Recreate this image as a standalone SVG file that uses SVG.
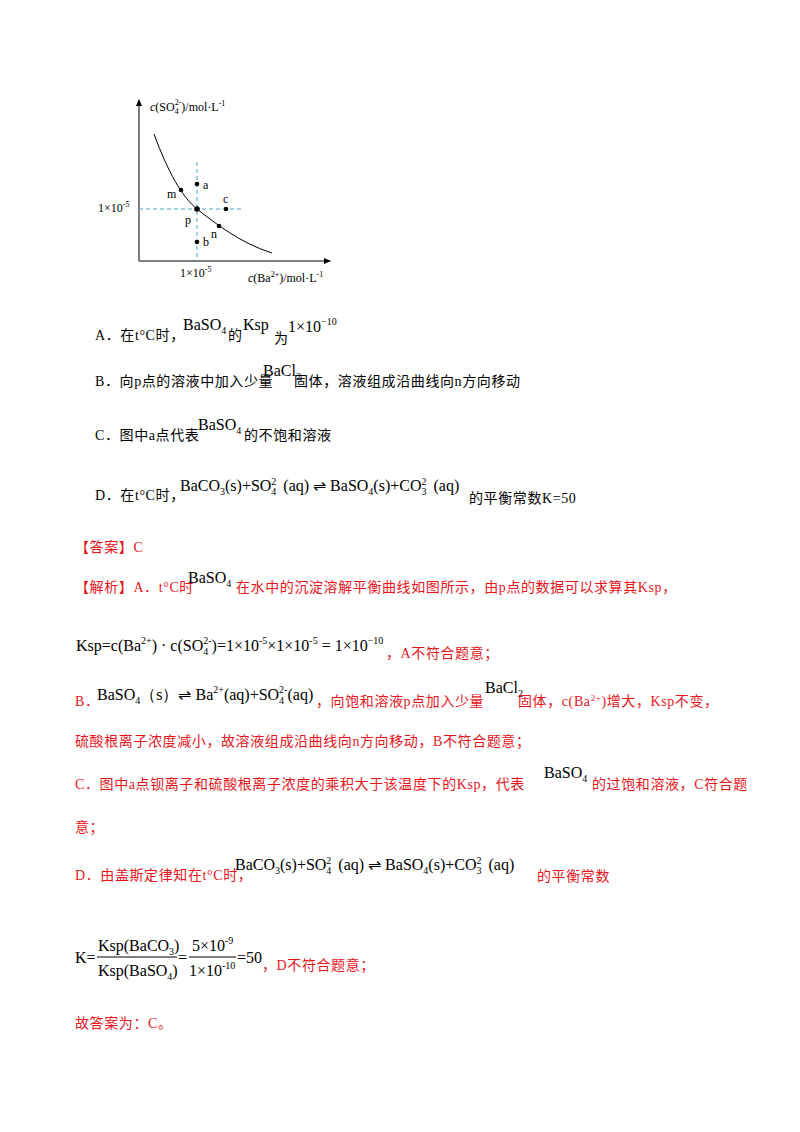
<svg xmlns="http://www.w3.org/2000/svg" width="800" height="1132" viewBox="0 0 800 1132">
<style>
.cn{font-family:"Liberation Serif","Noto Sans CJK SC",serif;font-size:14px;fill:#000;letter-spacing:0.6px}
.r{fill:#e8141b}
.f{font-family:"Liberation Serif",serif;font-size:16px;fill:#000}
.g{font-family:"Liberation Serif",serif;font-size:12px;fill:#000}
.s{font-size:10px}
.t{font-size:8px}
.dash{stroke:#4aa3c8;stroke-width:1;stroke-dasharray:4,3;fill:none}
</style>
<defs><marker id="ar" markerWidth="8" markerHeight="8" refX="6" refY="3" orient="auto"><path d="M0,0 L7,3 L0,6 z" fill="#000"/></marker></defs>
<rect width="800" height="1132" fill="#fff"/>
<g id="graph">
<line x1="139" y1="261" x2="139" y2="100" stroke="#000" marker-end="url(#ar)"/>
<line x1="139" y1="261" x2="330" y2="261" stroke="#000" marker-end="url(#ar)"/>
<line class="dash" x1="197" y1="162" x2="197" y2="261"/>
<line class="dash" x1="139" y1="209" x2="242" y2="209"/>
<path d="M154,134 C168,172 182,197 197,209 C215,223 240,243 272,253" fill="none" stroke="#000"/>
<g fill="#000"><circle cx="197" cy="184" r="2.3"/><circle cx="181" cy="190" r="2.3"/><circle cx="197" cy="209" r="2.8"/><circle cx="226" cy="209" r="2.3"/><circle cx="219" cy="226" r="2.3"/><circle cx="197" cy="242" r="2.3"/></g>
<text class="g" x="203" y="189">a</text><text class="g" x="167" y="198">m</text><text class="g" x="185" y="224">p</text><text class="g" x="223" y="203">c</text><text class="g" x="211" y="238">n</text><text class="g" x="203" y="246">b</text>
<text class="g" x="150" y="111"><tspan font-style="italic">c</tspan>(SO<tspan class="t" dy="3">4</tspan><tspan class="t" dx="-4" dy="-9">2-</tspan><tspan dy="6">)/mol·L</tspan><tspan class="t" dy="-5">-1</tspan></text>
<text class="g" x="98" y="212">1×10<tspan class="t" dy="-5">-5</tspan></text>
<text class="g" x="180" y="277">1×10<tspan class="t" dy="-5">-5</tspan></text>
<text class="g" x="248" y="282"><tspan font-style="italic">c</tspan>(Ba<tspan class="t" dy="-5">2+</tspan><tspan dy="5">)/mol·L</tspan><tspan class="t" dy="-5">-1</tspan></text>
</g>
<g id="options">
<text class="cn" x="95" y="340">A．在t°C时，</text>
<text class="f" x="183" y="330">BaSO<tspan class="s" dy="4">4</tspan></text>
<text class="cn" x="228" y="340">的</text>
<text class="f" x="243" y="330">Ksp</text>
<text class="cn" x="274" y="343">为</text>
<text class="f" x="288" y="332">1×10<tspan class="s" dy="-7">−10</tspan></text>
<text class="cn" x="95" y="386">B．向p点的溶液中加入少量</text>
<text class="f" x="263" y="376" font-size="15">BaCl<tspan class="s" dy="4">2</tspan></text>
<text class="cn" x="294" y="386">固体，溶液组成沿曲线向n方向移动</text>
<text class="cn" x="95" y="440">C．图中a点代表</text>
<text class="f" x="198" y="430">BaSO<tspan class="s" dy="4">4</tspan></text>
<text class="cn" x="244" y="440">的不饱和溶液</text>
<text class="cn" x="95" y="500">D．在t°C时，</text>
<text class="f" x="180" y="491">BaCO<tspan class="s" dy="4">3</tspan><tspan dy="-4">(s)+SO</tspan><tspan class="s" dy="4">4</tspan><tspan class="s" dx="-5" dy="-10">2</tspan><tspan dy="6" dx="7">(aq) ⇌ BaSO</tspan><tspan class="s" dy="4">4</tspan><tspan dy="-4">(s)+CO</tspan><tspan class="s" dy="4">3</tspan><tspan class="s" dx="-5" dy="-10">2</tspan><tspan dy="6" dx="7">(aq)</tspan></text>
<text class="cn" x="469" y="503">的平衡常数K=50</text>
</g>
<g id="answer">
<text class="cn r" x="75" y="552">【答案】C</text>
<text class="cn r" x="75" y="592">【解析】A．t°C时</text>
<text class="f" x="188" y="583">BaSO<tspan class="s" dy="4">4</tspan></text>
<text class="cn r" x="236" y="592">在水中的沉淀溶解平衡曲线如图所示，由p点的数据可以求算其Ksp，</text>
<text class="f" x="76" y="651">Ksp=c(Ba<tspan class="s" dy="-7">2+</tspan><tspan dy="7">) · c(SO</tspan><tspan class="s" dy="4">4</tspan><tspan class="s" dx="-5" dy="-11">2-</tspan><tspan dy="7">)=1×10</tspan><tspan class="s" dy="-7">-5</tspan><tspan dy="7">×1×10</tspan><tspan class="s" dy="-7">-5</tspan><tspan dy="7"> = 1×10</tspan><tspan class="s" dy="-7">−10</tspan></text>
<text class="cn r" x="386" y="658">，A不符合题意；</text>
<text class="cn r" x="75" y="706">B．</text>
<text class="f" x="97" y="700">BaSO<tspan class="s" dy="4">4</tspan><tspan dy="-4">（s）⇌ Ba</tspan><tspan class="s" dy="-7">2+</tspan><tspan dy="7">(aq)+SO</tspan><tspan class="s" dy="4">4</tspan><tspan class="s" dx="-5" dy="-11">2-</tspan><tspan dy="7">(aq)</tspan></text>
<text class="cn r" x="316" y="706">，向饱和溶液p点加入少量</text>
<text class="f" x="485" y="693" font-size="15">BaCl<tspan class="s" dy="4">2</tspan></text>
<text class="cn r" x="518" y="706">固体，c(Ba<tspan font-size="9" dy="-5">2+</tspan><tspan dy="5">)增大，Ksp不变，</tspan></text>
<text class="cn r" x="75" y="746">硫酸根离子浓度减小，故溶液组成沿曲线向n方向移动，B不符合题意；</text>
<text class="cn r" x="75" y="789">C．图中a点钡离子和硫酸根离子浓度的乘积大于该温度下的Ksp，代表</text>
<text class="f" x="544" y="778">BaSO<tspan class="s" dy="4">4</tspan></text>
<text class="cn r" x="592" y="789">的过饱和溶液，C符合题</text>
<text class="cn r" x="75" y="832">意；</text>
<text class="cn r" x="75" y="880">D．由盖斯定律知在t°C时，</text>
<text class="f" x="235" y="870">BaCO<tspan class="s" dy="4">3</tspan><tspan dy="-4">(s)+SO</tspan><tspan class="s" dy="4">4</tspan><tspan class="s" dx="-5" dy="-10">2</tspan><tspan dy="6" dx="7">(aq) ⇌ BaSO</tspan><tspan class="s" dy="4">4</tspan><tspan dy="-4">(s)+CO</tspan><tspan class="s" dy="4">3</tspan><tspan class="s" dx="-5" dy="-10">2</tspan><tspan dy="6" dx="7">(aq)</tspan></text>
<text class="cn r" x="537" y="881">的平衡常数</text>
<text class="f" x="75" y="963">K=</text>
<text class="f" x="98" y="951">Ksp(BaCO<tspan class="s" dy="4">3</tspan><tspan dy="-4">)</tspan></text>
<line x1="97" y1="957" x2="177" y2="957" stroke="#000"/>
<text class="f" x="98" y="976">Ksp(BaSO<tspan class="s" dy="4">4</tspan><tspan dy="-4">)</tspan></text>
<text class="f" x="178" y="963">=</text>
<text class="f" x="192" y="951">5×10<tspan class="s" dy="-7">-9</tspan></text>
<line x1="189" y1="957" x2="236" y2="957" stroke="#000"/>
<text class="f" x="189" y="976">1×10<tspan class="s" dy="-7">-10</tspan></text>
<text class="f" x="237" y="963">=50</text>
<text class="cn r" x="262" y="970">，D不符合题意；</text>
<text class="cn r" x="75" y="1028">故答案为：C。</text>
</g>
</svg>
